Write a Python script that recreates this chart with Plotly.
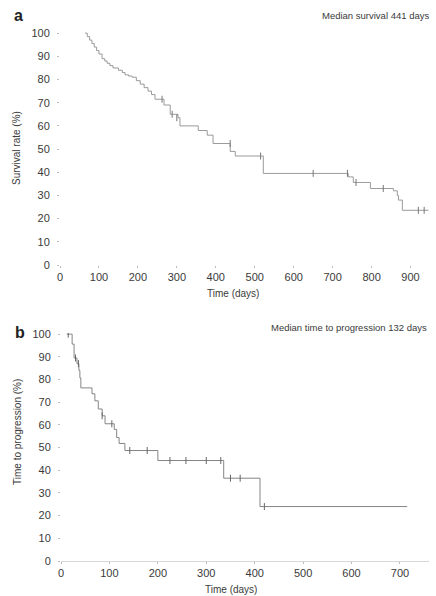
import plotly.graph_objects as go

# ---- Panel a: overall survival (Kaplan-Meier steps) ----
a_days = [64, 70, 76, 82, 88, 94, 100, 108, 115, 121, 128, 136, 150, 160, 167, 176, 185, 196,
          206, 216, 226, 235, 244, 267, 283, 303, 308, 355, 378, 393,
          437, 450, 522, 740, 753, 797, 856, 866, 869, 879, 946]
a_surv = [100, 98.5, 97, 95.5, 94, 92.5, 91, 89, 88, 87, 86, 85, 84, 83, 82, 81.5, 81, 79.5,
          78, 76.5, 75, 73.5, 71.5, 69, 65, 63.5, 60, 58, 56, 52.4,
          49, 47, 39.5, 38, 35.6, 33, 32, 30, 28, 23.6, 23.6]
a_cens_days = [262, 288, 300, 437, 515, 650, 738, 760, 830, 920, 935]
a_cens_surv = [71.5, 65, 63.5, 52.4, 47, 39.5, 39.5, 35.6, 33, 23.6, 23.6]

# ---- Panel b: time to progression ----
b_days = [12, 19, 23, 27, 33, 37, 39, 41, 64, 70, 77, 85, 91, 110, 115, 120, 132, 200,
          336, 411, 715]
b_prog = [100, 100, 95.6, 89.5, 87, 84, 80.7, 76.3, 73.7, 70.6, 67, 64, 60.5, 58, 54.4,
          51.8, 48.7, 44.3, 36.5, 24, 24]
b_cens_days = [15, 30, 36, 85, 105, 142, 178, 225, 258, 300, 330, 350, 370, 420]
b_cens_prog = [100, 89.5, 87, 64, 60.5, 48.7, 48.7, 44.3, 44.3, 44.3, 44.3, 36.5, 36.5, 24]

x_ticks_a = [0, 100, 200, 300, 400, 500, 600, 700, 800, 900]
x_ticks_b = [0, 100, 200, 300, 400, 500, 600, 700]
y_ticks = [0, 10, 20, 30, 40, 50, 60, 70, 80, 90, 100]

W, H = 436, 596
TXT = "#3a3a3a"
FONT = "Liberation Sans"

fig = go.Figure()
fig.add_trace(go.Scatter(x=a_days, y=a_surv, mode="lines", line=dict(shape="hv", color="#9a9a9a", width=1),
                         xaxis="x", yaxis="y", showlegend=False, hoverinfo="skip"))
fig.add_trace(go.Scatter(x=a_cens_days, y=a_cens_surv, mode="markers",
                         marker=dict(symbol="line-ns", size=5, line=dict(color="#777", width=1)),
                         xaxis="x", yaxis="y", showlegend=False, hoverinfo="skip"))
fig.add_trace(go.Scatter(x=b_days, y=b_prog, mode="lines", line=dict(shape="hv", color="#858585", width=1),
                         xaxis="x2", yaxis="y2", showlegend=False, hoverinfo="skip"))
fig.add_trace(go.Scatter(x=b_cens_days, y=b_cens_prog, mode="markers",
                         marker=dict(symbol="line-ns", size=5, line=dict(color="#666", width=1)),
                         xaxis="x2", yaxis="y2", showlegend=False, hoverinfo="skip"))

tickfont = dict(family=FONT, size=11, color=TXT)
titlefont = dict(family=FONT, size=10, color=TXT)

def xax(domain, anchor, rng, ticks, showline):
    return dict(domain=domain, anchor=anchor, range=rng, tickvals=ticks, ticks="outside",
                ticklen=2, tickcolor="#bbb", tickfont=tickfont, showgrid=False, zeroline=False,
                showline=showline, linecolor="#d8d8d8", linewidth=1, automargin=False)

def yax(domain, anchor):
    return dict(domain=domain, anchor=anchor, range=[0, 100.5], tickvals=y_ticks, ticks="outside",
                ticklen=2, tickcolor="#bbb", tickfont=tickfont, showgrid=False, zeroline=False,
                showline=False, automargin=False, ticklabelstandoff=5)

def ann(text, x, y, size, anchor="center", angle=0, color=TXT, bold=False):
    return dict(text=f"<b>{text}</b>" if bold else text, x=x / W, y=1 - y / H, xref="paper",
                yref="paper", showarrow=False, xanchor=anchor, yanchor="middle", textangle=angle,
                font=dict(family=FONT, size=size, color=color))

fig.update_layout(
    width=W, height=H, margin=dict(l=0, r=0, t=0, b=0),
    paper_bgcolor="white", plot_bgcolor="white",
    xaxis=xax([60 / W, 430 / W], "y", [0, 950], x_ticks_a, False),
    yaxis=yax([1 - 265 / H, 1 - 32 / H], "x"),
    xaxis2=xax([61 / W, 429 / W], "y2", [0, 760], x_ticks_b, True),
    yaxis2=yax([1 - 561 / H, 1 - 333 / H], "x2"),
    annotations=[
        ann("a", 12, 15, 16, anchor="left", color="#222", bold=True),
        ann("b", 13, 332, 16, anchor="left", color="#222", bold=True),
        ann("Median survival 441 days", 431, 15, 9.5, anchor="right"),
        ann("Median time to progression 132 days", 429, 327, 9.5, anchor="right"),
        ann("Time (days)", 233, 293, 10),
        ann("Time (days)", 231, 589, 10),
        ann("Survival rate (%)", 17, 148, 10, angle=-90),
        ann("Time to progression (%)", 17, 432, 10, angle=-90),
    ],
)

fig.write_html("out.html")
